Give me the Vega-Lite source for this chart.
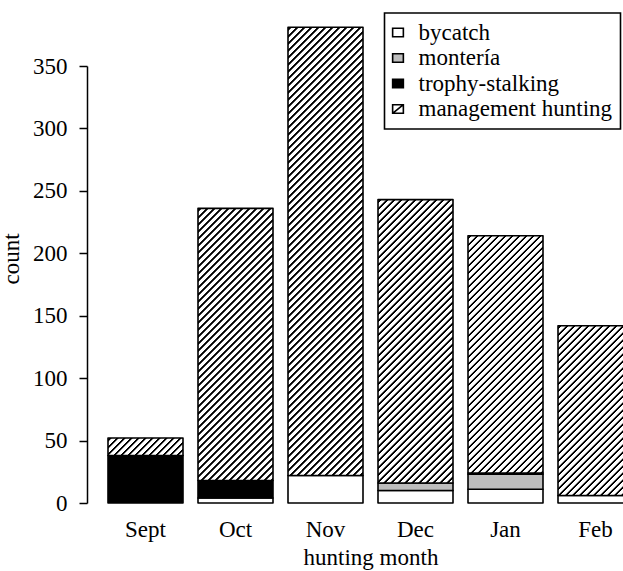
{
"$schema": "https://vega.github.io/schema/vega-lite/v6.json",
"width": 536, "height": 437,
"autosize": {"type": "none"},
"padding": {"left": 87, "top": 66, "right": 0, "bottom": 68},
"background": "white",
"params": [{"name": "hatch", "value": [
{"offset":0,"color":"#fff"},
{"offset":0.0015,"color":"#fff"},{"offset":0.0025,"color":"#000"},{"offset":0.005,"color":"#000"},{"offset":0.006,"color":"#fff"},
{"offset":0.0115,"color":"#fff"},{"offset":0.0125,"color":"#000"},{"offset":0.015,"color":"#000"},{"offset":0.016,"color":"#fff"},
{"offset":0.0215,"color":"#fff"},{"offset":0.0225,"color":"#000"},{"offset":0.025,"color":"#000"},{"offset":0.026,"color":"#fff"},
{"offset":0.0315,"color":"#fff"},{"offset":0.0325,"color":"#000"},{"offset":0.035,"color":"#000"},{"offset":0.036,"color":"#fff"},
{"offset":0.0415,"color":"#fff"},{"offset":0.0425,"color":"#000"},{"offset":0.045,"color":"#000"},{"offset":0.046,"color":"#fff"},
{"offset":0.0515,"color":"#fff"},{"offset":0.0525,"color":"#000"},{"offset":0.055,"color":"#000"},{"offset":0.056,"color":"#fff"},
{"offset":0.0615,"color":"#fff"},{"offset":0.0625,"color":"#000"},{"offset":0.065,"color":"#000"},{"offset":0.066,"color":"#fff"},
{"offset":0.0715,"color":"#fff"},{"offset":0.0725,"color":"#000"},{"offset":0.075,"color":"#000"},{"offset":0.076,"color":"#fff"},
{"offset":0.0815,"color":"#fff"},{"offset":0.0825,"color":"#000"},{"offset":0.085,"color":"#000"},{"offset":0.086,"color":"#fff"},
{"offset":0.0915,"color":"#fff"},{"offset":0.0925,"color":"#000"},{"offset":0.095,"color":"#000"},{"offset":0.096,"color":"#fff"},
{"offset":0.1015,"color":"#fff"},{"offset":0.1025,"color":"#000"},{"offset":0.105,"color":"#000"},{"offset":0.106,"color":"#fff"},
{"offset":0.1115,"color":"#fff"},{"offset":0.1125,"color":"#000"},{"offset":0.115,"color":"#000"},{"offset":0.116,"color":"#fff"},
{"offset":0.1215,"color":"#fff"},{"offset":0.1225,"color":"#000"},{"offset":0.125,"color":"#000"},{"offset":0.126,"color":"#fff"},
{"offset":0.1315,"color":"#fff"},{"offset":0.1325,"color":"#000"},{"offset":0.135,"color":"#000"},{"offset":0.136,"color":"#fff"},
{"offset":0.1415,"color":"#fff"},{"offset":0.1425,"color":"#000"},{"offset":0.145,"color":"#000"},{"offset":0.146,"color":"#fff"},
{"offset":0.1515,"color":"#fff"},{"offset":0.1525,"color":"#000"},{"offset":0.155,"color":"#000"},{"offset":0.156,"color":"#fff"},
{"offset":0.1615,"color":"#fff"},{"offset":0.1625,"color":"#000"},{"offset":0.165,"color":"#000"},{"offset":0.166,"color":"#fff"},
{"offset":0.1715,"color":"#fff"},{"offset":0.1725,"color":"#000"},{"offset":0.175,"color":"#000"},{"offset":0.176,"color":"#fff"},
{"offset":0.1815,"color":"#fff"},{"offset":0.1825,"color":"#000"},{"offset":0.185,"color":"#000"},{"offset":0.186,"color":"#fff"},
{"offset":0.1915,"color":"#fff"},{"offset":0.1925,"color":"#000"},{"offset":0.195,"color":"#000"},{"offset":0.196,"color":"#fff"},
{"offset":0.2015,"color":"#fff"},{"offset":0.2025,"color":"#000"},{"offset":0.205,"color":"#000"},{"offset":0.206,"color":"#fff"},
{"offset":0.2115,"color":"#fff"},{"offset":0.2125,"color":"#000"},{"offset":0.215,"color":"#000"},{"offset":0.216,"color":"#fff"},
{"offset":0.2215,"color":"#fff"},{"offset":0.2225,"color":"#000"},{"offset":0.225,"color":"#000"},{"offset":0.226,"color":"#fff"},
{"offset":0.2315,"color":"#fff"},{"offset":0.2325,"color":"#000"},{"offset":0.235,"color":"#000"},{"offset":0.236,"color":"#fff"},
{"offset":0.2415,"color":"#fff"},{"offset":0.2425,"color":"#000"},{"offset":0.245,"color":"#000"},{"offset":0.246,"color":"#fff"},
{"offset":0.2515,"color":"#fff"},{"offset":0.2525,"color":"#000"},{"offset":0.255,"color":"#000"},{"offset":0.256,"color":"#fff"},
{"offset":0.2615,"color":"#fff"},{"offset":0.2625,"color":"#000"},{"offset":0.265,"color":"#000"},{"offset":0.266,"color":"#fff"},
{"offset":0.2715,"color":"#fff"},{"offset":0.2725,"color":"#000"},{"offset":0.275,"color":"#000"},{"offset":0.276,"color":"#fff"},
{"offset":0.2815,"color":"#fff"},{"offset":0.2825,"color":"#000"},{"offset":0.285,"color":"#000"},{"offset":0.286,"color":"#fff"},
{"offset":0.2915,"color":"#fff"},{"offset":0.2925,"color":"#000"},{"offset":0.295,"color":"#000"},{"offset":0.296,"color":"#fff"},
{"offset":0.3015,"color":"#fff"},{"offset":0.3025,"color":"#000"},{"offset":0.305,"color":"#000"},{"offset":0.306,"color":"#fff"},
{"offset":0.3115,"color":"#fff"},{"offset":0.3125,"color":"#000"},{"offset":0.315,"color":"#000"},{"offset":0.316,"color":"#fff"},
{"offset":0.3215,"color":"#fff"},{"offset":0.3225,"color":"#000"},{"offset":0.325,"color":"#000"},{"offset":0.326,"color":"#fff"},
{"offset":0.3315,"color":"#fff"},{"offset":0.3325,"color":"#000"},{"offset":0.335,"color":"#000"},{"offset":0.336,"color":"#fff"},
{"offset":0.3415,"color":"#fff"},{"offset":0.3425,"color":"#000"},{"offset":0.345,"color":"#000"},{"offset":0.346,"color":"#fff"},
{"offset":0.3515,"color":"#fff"},{"offset":0.3525,"color":"#000"},{"offset":0.355,"color":"#000"},{"offset":0.356,"color":"#fff"},
{"offset":0.3615,"color":"#fff"},{"offset":0.3625,"color":"#000"},{"offset":0.365,"color":"#000"},{"offset":0.366,"color":"#fff"},
{"offset":0.3715,"color":"#fff"},{"offset":0.3725,"color":"#000"},{"offset":0.375,"color":"#000"},{"offset":0.376,"color":"#fff"},
{"offset":0.3815,"color":"#fff"},{"offset":0.3825,"color":"#000"},{"offset":0.385,"color":"#000"},{"offset":0.386,"color":"#fff"},
{"offset":0.3915,"color":"#fff"},{"offset":0.3925,"color":"#000"},{"offset":0.395,"color":"#000"},{"offset":0.396,"color":"#fff"},
{"offset":0.4015,"color":"#fff"},{"offset":0.4025,"color":"#000"},{"offset":0.405,"color":"#000"},{"offset":0.406,"color":"#fff"},
{"offset":0.4115,"color":"#fff"},{"offset":0.4125,"color":"#000"},{"offset":0.415,"color":"#000"},{"offset":0.416,"color":"#fff"},
{"offset":0.4215,"color":"#fff"},{"offset":0.4225,"color":"#000"},{"offset":0.425,"color":"#000"},{"offset":0.426,"color":"#fff"},
{"offset":0.4315,"color":"#fff"},{"offset":0.4325,"color":"#000"},{"offset":0.435,"color":"#000"},{"offset":0.436,"color":"#fff"},
{"offset":0.4415,"color":"#fff"},{"offset":0.4425,"color":"#000"},{"offset":0.445,"color":"#000"},{"offset":0.446,"color":"#fff"},
{"offset":0.4515,"color":"#fff"},{"offset":0.4525,"color":"#000"},{"offset":0.455,"color":"#000"},{"offset":0.456,"color":"#fff"},
{"offset":0.4615,"color":"#fff"},{"offset":0.4625,"color":"#000"},{"offset":0.465,"color":"#000"},{"offset":0.466,"color":"#fff"},
{"offset":0.4715,"color":"#fff"},{"offset":0.4725,"color":"#000"},{"offset":0.475,"color":"#000"},{"offset":0.476,"color":"#fff"},
{"offset":0.4815,"color":"#fff"},{"offset":0.4825,"color":"#000"},{"offset":0.485,"color":"#000"},{"offset":0.486,"color":"#fff"},
{"offset":0.4915,"color":"#fff"},{"offset":0.4925,"color":"#000"},{"offset":0.495,"color":"#000"},{"offset":0.496,"color":"#fff"},
{"offset":0.5015,"color":"#fff"},{"offset":0.5025,"color":"#000"},{"offset":0.505,"color":"#000"},{"offset":0.506,"color":"#fff"},
{"offset":0.5115,"color":"#fff"},{"offset":0.5125,"color":"#000"},{"offset":0.515,"color":"#000"},{"offset":0.516,"color":"#fff"},
{"offset":0.5215,"color":"#fff"},{"offset":0.5225,"color":"#000"},{"offset":0.525,"color":"#000"},{"offset":0.526,"color":"#fff"},
{"offset":0.5315,"color":"#fff"},{"offset":0.5325,"color":"#000"},{"offset":0.535,"color":"#000"},{"offset":0.536,"color":"#fff"},
{"offset":0.5415,"color":"#fff"},{"offset":0.5425,"color":"#000"},{"offset":0.545,"color":"#000"},{"offset":0.546,"color":"#fff"},
{"offset":0.5515,"color":"#fff"},{"offset":0.5525,"color":"#000"},{"offset":0.555,"color":"#000"},{"offset":0.556,"color":"#fff"},
{"offset":0.5615,"color":"#fff"},{"offset":0.5625,"color":"#000"},{"offset":0.565,"color":"#000"},{"offset":0.566,"color":"#fff"},
{"offset":0.5715,"color":"#fff"},{"offset":0.5725,"color":"#000"},{"offset":0.575,"color":"#000"},{"offset":0.576,"color":"#fff"},
{"offset":0.5815,"color":"#fff"},{"offset":0.5825,"color":"#000"},{"offset":0.585,"color":"#000"},{"offset":0.586,"color":"#fff"},
{"offset":0.5915,"color":"#fff"},{"offset":0.5925,"color":"#000"},{"offset":0.595,"color":"#000"},{"offset":0.596,"color":"#fff"},
{"offset":0.6015,"color":"#fff"},{"offset":0.6025,"color":"#000"},{"offset":0.605,"color":"#000"},{"offset":0.606,"color":"#fff"},
{"offset":0.6115,"color":"#fff"},{"offset":0.6125,"color":"#000"},{"offset":0.615,"color":"#000"},{"offset":0.616,"color":"#fff"},
{"offset":0.6215,"color":"#fff"},{"offset":0.6225,"color":"#000"},{"offset":0.625,"color":"#000"},{"offset":0.626,"color":"#fff"},
{"offset":0.6315,"color":"#fff"},{"offset":0.6325,"color":"#000"},{"offset":0.635,"color":"#000"},{"offset":0.636,"color":"#fff"},
{"offset":0.6415,"color":"#fff"},{"offset":0.6425,"color":"#000"},{"offset":0.645,"color":"#000"},{"offset":0.646,"color":"#fff"},
{"offset":0.6515,"color":"#fff"},{"offset":0.6525,"color":"#000"},{"offset":0.655,"color":"#000"},{"offset":0.656,"color":"#fff"},
{"offset":0.6615,"color":"#fff"},{"offset":0.6625,"color":"#000"},{"offset":0.665,"color":"#000"},{"offset":0.666,"color":"#fff"},
{"offset":0.6715,"color":"#fff"},{"offset":0.6725,"color":"#000"},{"offset":0.675,"color":"#000"},{"offset":0.676,"color":"#fff"},
{"offset":0.6815,"color":"#fff"},{"offset":0.6825,"color":"#000"},{"offset":0.685,"color":"#000"},{"offset":0.686,"color":"#fff"},
{"offset":0.6915,"color":"#fff"},{"offset":0.6925,"color":"#000"},{"offset":0.695,"color":"#000"},{"offset":0.696,"color":"#fff"},
{"offset":0.7015,"color":"#fff"},{"offset":0.7025,"color":"#000"},{"offset":0.705,"color":"#000"},{"offset":0.706,"color":"#fff"},
{"offset":0.7115,"color":"#fff"},{"offset":0.7125,"color":"#000"},{"offset":0.715,"color":"#000"},{"offset":0.716,"color":"#fff"},
{"offset":0.7215,"color":"#fff"},{"offset":0.7225,"color":"#000"},{"offset":0.725,"color":"#000"},{"offset":0.726,"color":"#fff"},
{"offset":0.7315,"color":"#fff"},{"offset":0.7325,"color":"#000"},{"offset":0.735,"color":"#000"},{"offset":0.736,"color":"#fff"},
{"offset":0.7415,"color":"#fff"},{"offset":0.7425,"color":"#000"},{"offset":0.745,"color":"#000"},{"offset":0.746,"color":"#fff"},
{"offset":1,"color":"#fff"}
]}],
"data": {"values": [
{"month":"Sept","type":"trophy-stalking","count":38},
{"month":"Sept","type":"management hunting","count":14},
{"month":"Oct","type":"bycatch","count":4},
{"month":"Oct","type":"trophy-stalking","count":14},
{"month":"Oct","type":"management hunting","count":218},
{"month":"Nov","type":"bycatch","count":22},
{"month":"Nov","type":"management hunting","count":359},
{"month":"Dec","type":"bycatch","count":10},
{"month":"Dec","type":"montería","count":6},
{"month":"Dec","type":"management hunting","count":227},
{"month":"Jan","type":"bycatch","count":11},
{"month":"Jan","type":"montería","count":12},
{"month":"Jan","type":"trophy-stalking","count":1},
{"month":"Jan","type":"management hunting","count":190},
{"month":"Feb","type":"bycatch","count":6},
{"month":"Feb","type":"management hunting","count":136}
]},
"transform": [{"calculate": "indexof(['bycatch','montería','trophy-stalking','management hunting'], datum.type)", "as": "ord"}],
"mark": {"type": "bar", "stroke": "black", "strokeWidth": 1.6, "strokeJoin": "round"},
"encoding": {
 "x": {"field": "month", "type": "nominal", "sort": ["Sept","Oct","Nov","Dec","Jan","Feb"],
   "scale": {"range": [21, 546], "paddingInner": 0.1666667, "paddingOuter": 0},
   "axis": {"title": "hunting month", "domain": false, "ticks": false, "labelPadding": 15, "labelAngle": 0,
     "labelFont": "Liberation Serif", "labelFontSize": 23, "labelColor": "black",
     "titleFont": "Liberation Serif", "titleFontSize": 23, "titleFontWeight": "normal", "titleColor": "black",
     "titlePadding": 5, "titleX": 283.5}},
 "y": {"field": "count", "type": "quantitative", "stack": "zero",
   "scale": {"domain": [0, 350], "nice": false},
   "axis": {"values": [0,50,100,150,200,250,300,350], "title": "count", "grid": false,
     "domainColor": "black", "domainWidth": 1.5, "tickColor": "black", "tickWidth": 1.5, "tickSize": 8,
     "labelPadding": 12, "labelFont": "Liberation Serif", "labelFontSize": 23, "labelColor": "black",
     "labelFlush": false, "labelOverlap": false,
     "titleFont": "Liberation Serif", "titleFontSize": 23, "titleFontWeight": "normal", "titleColor": "black",
     "titlePadding": 9, "titleY": 192.5}},
 "order": {"field": "ord", "type": "quantitative"},
 "fill": {"field": "type", "type": "nominal",
   "scale": {"domain": ["bycatch","montería","trophy-stalking","management hunting"], "range": ["white", "#bebebe", "black", "white"]},
   "condition": {"test": "datum.type === 'management hunting'",
     "value": {"expr": "{gradient: 'linear', x1: 0, y1: 0, x2: 52500 / (5625 + pow(datum.count * 437 / 350, 2)), y2: 700 * (datum.count * 437 / 350) / (5625 + pow(datum.count * 437 / 350, 2)), stops: hatch}"}},
   "legend": {"title": null, "orient": "none", "legendX": 297.5, "legendY": -53,
     "strokeColor": "black", "fillColor": "white", "padding": 8,
     "labelFont": "Liberation Serif", "labelFontSize": 23, "labelColor": "black", "labelOffset": 9, "labelLimit": 0,
     "rowPadding": 1.5, "symbolSize": 115, "symbolOffset": -6, "symbolStrokeColor": "black", "symbolStrokeWidth": 1.6,
     "symbolType": "M-1,-0.8H1V0.8H-1Z",
     "encode": {
       "legend": {"update": {"strokeWidth": {"value": 1.6}}},
       "symbols": {"update": {"shape": {"signal": "datum.value === 'management hunting' ? 'M-1,-0.8H1V0.8H-1Z M-1,0.8L1,-0.8' : 'M-1,-0.8H1V0.8H-1Z'"}}}}}}
},
"config": {"view": {"stroke": null}, "font": "Liberation Serif"}
}
